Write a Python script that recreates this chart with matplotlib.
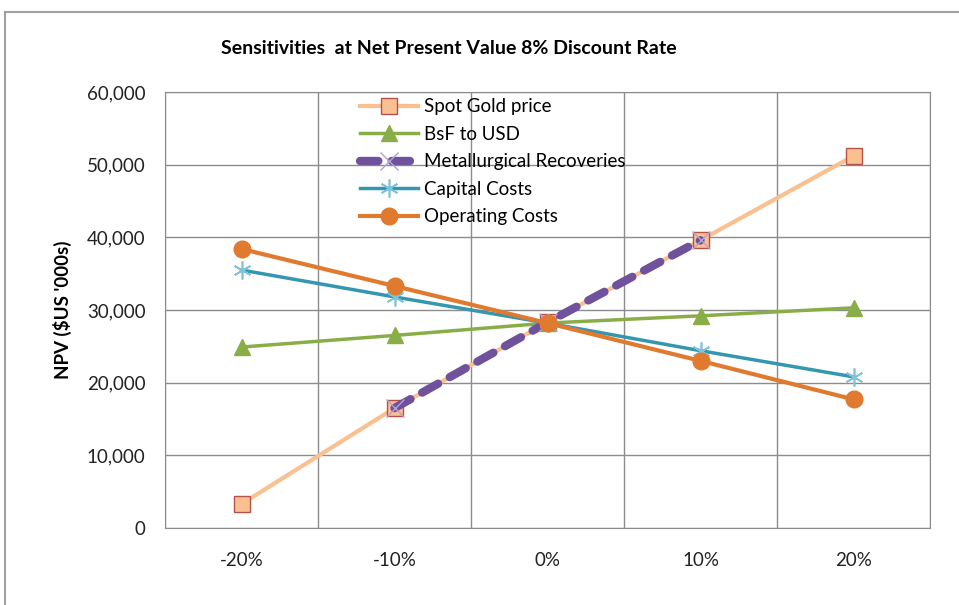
import numpy as np
import matplotlib.pyplot as plt
from matplotlib.patches import Rectangle

plt.rcParams['font.family'] = ['Lato', 'DejaVu Sans']

# Data (NPV, $US '000s)
categories = ["-20%", "-10%", "0%", "10%", "20%"]
spot_gold = [3300, 16500, 28300, 39600, 51200]
bsf_usd = [24900, 26500, 28200, 29200, 30300]
metallurgical = [np.nan, 16500, 28300, 39600, np.nan]
capital_costs = [35500, 31800, 28200, 24400, 20800]
operating_costs = [38400, 33300, 28200, 23000, 17700]

x = np.arange(len(categories))

fig = plt.figure(figsize=(9.59, 6.05), dpi=100)
ax = fig.add_axes([165/959, 1 - 528/605, (930-165)/959, (528-92)/605])

# outer chart frame (only left/top edge visible)
fig.patches.append(Rectangle((5/959, -0.1), 1.2, 1 - 12/605 + 0.1,
                             transform=fig.transFigure, fill=False,
                             edgecolor="#A0A0A0", linewidth=1.5))

ax.plot(x, spot_gold, color="#FAC090", lw=3, marker="s", ms=11,
        mfc="#FAC090", mec="#B5524B", mew=1, label="Spot Gold price")
ax.plot(x, bsf_usd, color="#8AAE47", lw=2.5, marker="^", ms=11,
        mfc="#8AAE47", mec="#8AAE47", label="BsF to USD")
ax.plot(x, metallurgical, color="#70529C", lw=6, ls=(0, (2.2, 1.6)),
        dash_capstyle="round", marker="x", ms=13, mec="#B3A2D6", mew=1,
        label="Metallurgical Recoveries")
ax.plot(x, capital_costs, color="#3596B0", lw=2.5, marker=(6, 2, 0), ms=13,
        mec="#7FC3DB", mew=1.2, label="Capital Costs")
ax.plot(x, operating_costs, color="#E07A2E", lw=3, marker="o", ms=12,
        mfc="#E07A2E", mec="#E07A2E", label="Operating Costs")

ax.set_xlim(-0.5, 4.5)
ax.set_ylim(0, 60000)
ax.set_yticks(np.arange(0, 60001, 10000))
ax.set_yticklabels([f"{v:,}" for v in range(0, 60001, 10000)])
ax.set_xticks(x)
ax.set_xticklabels(categories)
ax.set_xticks(np.arange(-0.5, 4.6, 1), minor=True)

ax.grid(True, axis="y", which="major", color="#8C8C8C", lw=1)
ax.grid(True, axis="x", which="minor", color="#8C8C8C", lw=1)
ax.set_axisbelow(True)
for s in ax.spines.values():
    s.set_color("#8C8C8C")
ax.tick_params(axis="both", which="both", length=0, labelsize=13.5,
               colors="#222222")
ax.tick_params(axis="x", pad=17)
ax.tick_params(axis="y", pad=14)

ax.set_ylabel("NPV ($US '000s)", fontsize=13.5, fontweight="bold", labelpad=11)
fig.text(0.468, 1 - 48/605, "Sensitivities  at Net Present Value 8% Discount Rate",
         ha="center", va="center", fontsize=14, fontweight="bold")

leg = ax.legend(loc="upper left", bbox_to_anchor=(0.255, 0.986), frameon=False,
                fontsize=13.5, handlelength=3.1, labelspacing=0.56,
                handletextpad=0.3, borderpad=0, borderaxespad=0)

fig.savefig("out.png", dpi=100)
